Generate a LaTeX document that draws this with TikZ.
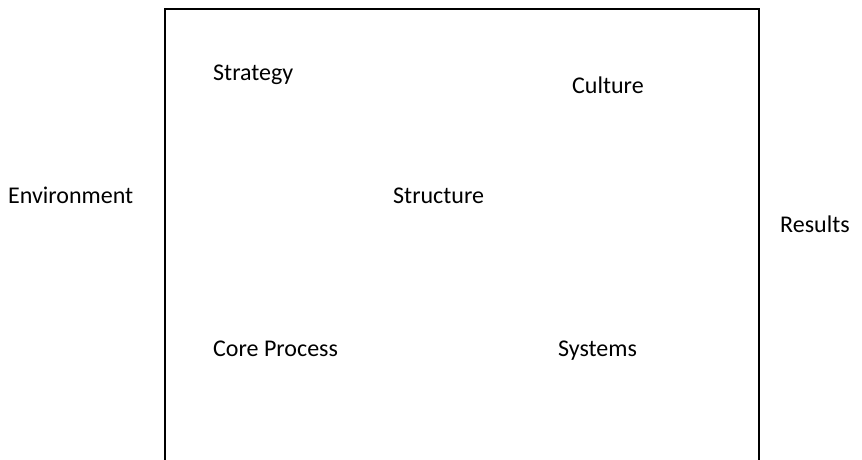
\documentclass[tikz,border=0pt]{standalone}
\usepackage{fontspec}
\setmainfont{Carlito}
\usetikzlibrary{positioning}

\begin{document}
\begin{tikzpicture}[x=1pt, y=-1pt,
  every node/.style={inner sep=0pt, font=\fontsize{24}{28}\selectfont},
  label/.style={anchor=base west}]
  \useasboundingbox (0,0) rectangle (862,460);
  % open frame, running off the bottom edge
  \coordinate (bl) at (165,460);
  \coordinate (tl) at (165,9);
  \coordinate (tr) at (759,9);
  \coordinate (br) at (759,460);
  \draw[line width=1.5pt] (bl) -- (tl) -- (tr) -- (br);
  % outside the frame
  \node[label] (env) at (8,203)   {Environment};
  \node[label] (res) at (780,232) {Results};
  % inside the frame
  \node[label] (strat)  at (213,81)  {Strategy};
  \node[label] (cult)   at (572,93)  {Culture};
  \node[label] (struct) at (393,203) {Structure};
  \node[label] (core)   at (213,356) {Core Process};
  \node[label] (sys)    at (558,356) {Systems};
\end{tikzpicture}
\end{document}
